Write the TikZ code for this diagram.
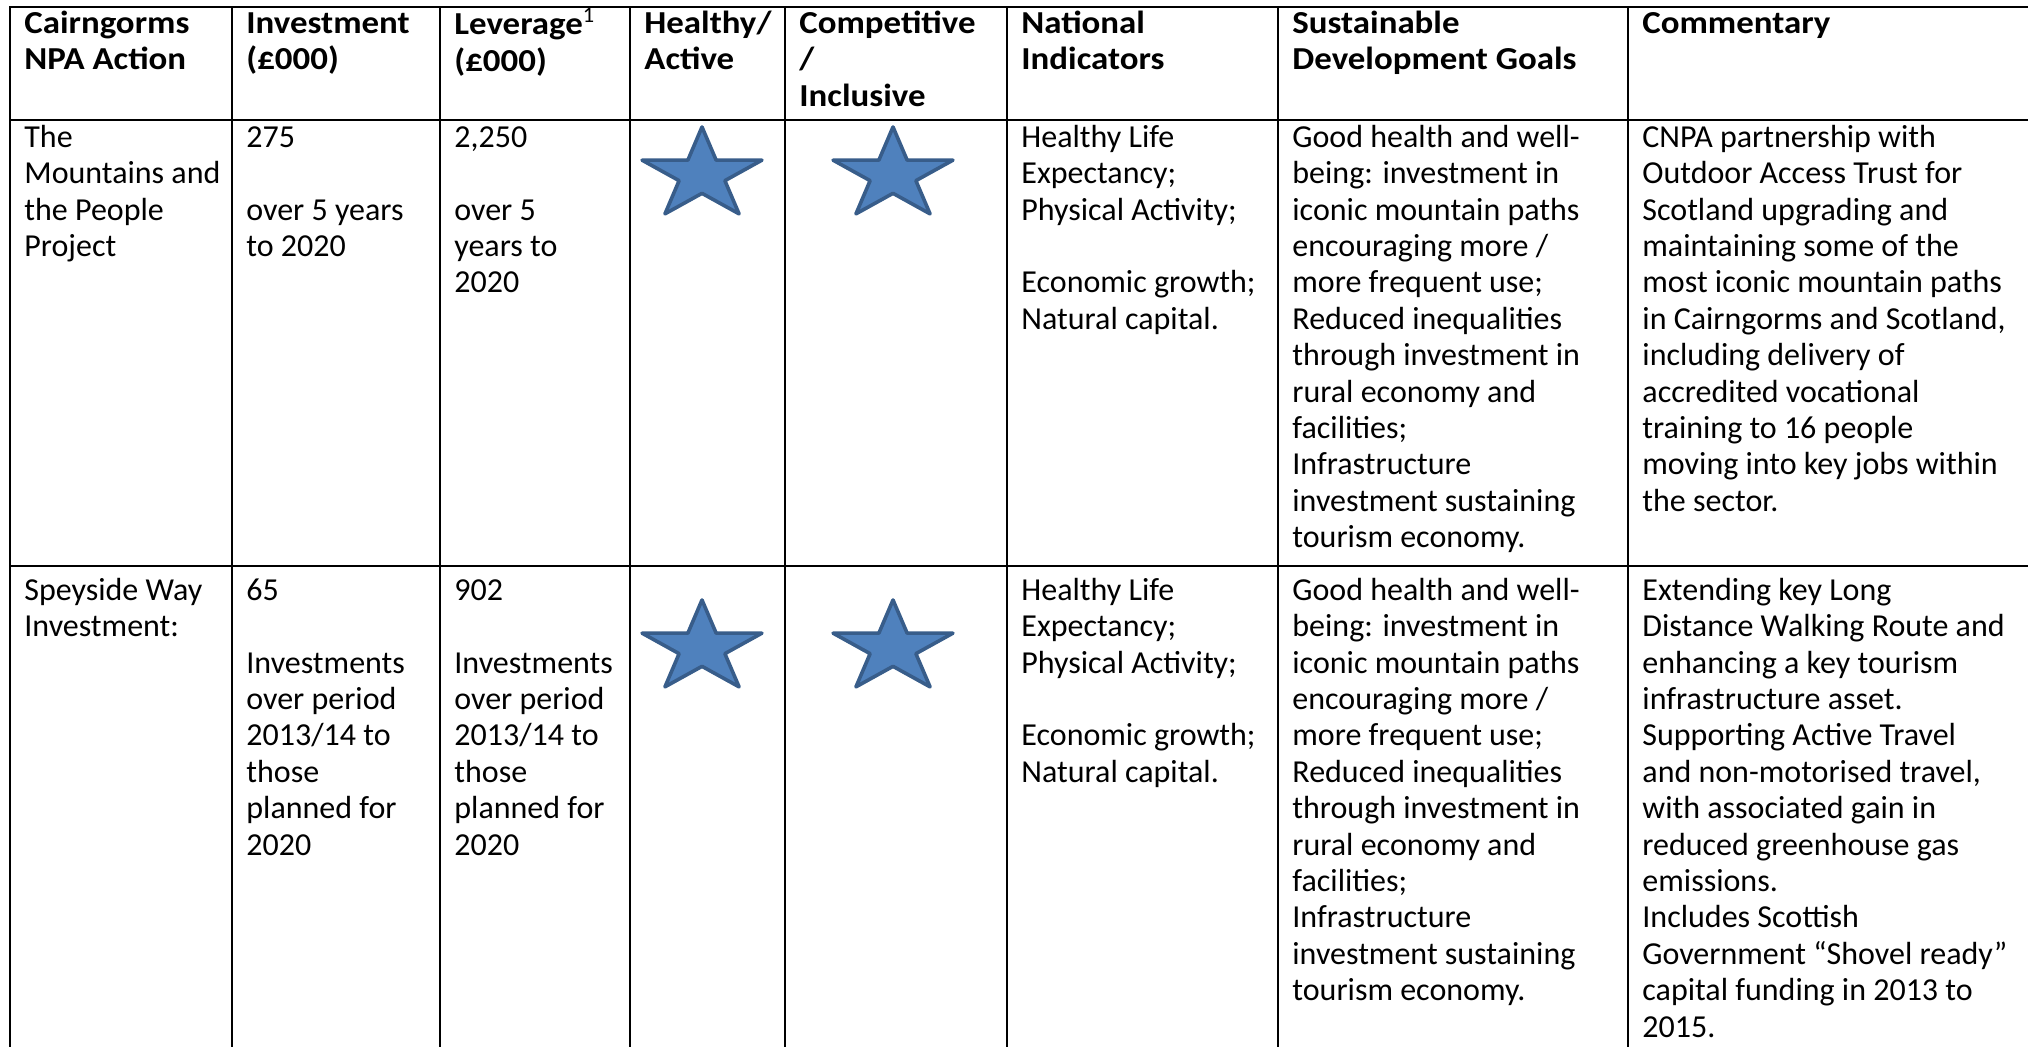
\documentclass[tikz,border=0pt]{standalone}
\usepackage{fontspec}
\setmainfont{Carlito}[BoldFeatures={FakeStretch=1.09}]
\usepackage{tikz}
\usetikzlibrary{positioning}
\definecolor{starblue}{HTML}{4F81BD}
\definecolor{staredge}{HTML}{385D8A}

\begin{document}
\begin{tikzpicture}[x=0.5pt,y=-0.5pt,
    cell/.style={anchor=north west,inner sep=0pt,align=left,font=\fontsize{16}{18.2}\selectfont},
    head/.style={cell,font=\fontsize{16}{18.2}\selectfont\bfseries},
    rule/.style={line width=1.3pt,line cap=rect},
    pics/bigstar/.style={code={
      \draw[fill=starblue,draw=staredge,line width=1.8pt,line join=round,xscale=63,yscale=48]
        (-90:1) \foreach \k in {1,...,9} {-- ({-90+36*\k}:{1-0.618*mod(\k,2)})} -- cycle;}}]
    \useasboundingbox (0,0) rectangle (2028,1047);
    \fill[white] (0,0) rectangle (2028,1047);
    \foreach \cx in {10,232,440,630,785,1007,1278,1628}
      \draw[rule] (\cx,7) -- (\cx,1047);
    \foreach \ry in {7,120,566}
      \draw[rule] (10,\ry) -- (2028,\ry);

    \node[head] (hAction) at (24,7.5) {\strut Cairngorms\\NPA Action};
    \node[head] (hInvest) at (246,7.5) {\strut Investment\\(£000)};
    \node[head] (hLever) at (454,7.5) {\strut Leverage\textsuperscript{\mdseries 1}\\(£000)};
    \node[head] (hHealthy) at (644,7.5) {\strut Healthy/\\Active};
    \node[head] (hCompet) at (799,7.5) {\strut Competitive\\/\\Inclusive};
    \node[head] (hNational) at (1021,7.5) {\strut National\\Indicators};
    \node[head] (hGoals) at (1292,7.5) {\strut Sustainable\\Development Goals};
    \node[head] (hComment) at (1642,7.5) {\strut Commentary};

    \node[cell] (act1) at (24,121.5) {\strut The\\Mountains and\\the People\\Project};
    \node[cell] (inv1) at (246,121.5) {\strut 275\\[18.2pt]over 5 years\\to 2020};
    \node[cell] (lev1) at (454,121.5) {\strut 2,250\\[18.2pt]over 5\\years to\\2020};
    \pic (heal1) at (702,175) {bigstar};
    \pic (comp1) at (893,175) {bigstar};
    \node[cell] (nat1) at (1021,121.5) {\strut Healthy Life\\Expectancy;\\Physical Activity;\\[18.2pt]Economic growth;\\Natural capital.};
    \node[cell] (sdg1) at (1292,121.5) {\strut Good health and well-\\being: investment in\\iconic mountain paths\\encouraging more /\\more frequent use;\\Reduced inequalities\\through investment in\\rural economy and\\facilities;\\Infrastructure\\investment sustaining\\tourism economy.};
    \node[cell] (com1) at (1642,121.5) {\strut CNPA partnership with\\Outdoor Access Trust for\\Scotland upgrading and\\maintaining some of the\\most iconic mountain paths\\in Cairngorms and Scotland,\\including delivery of\\accredited vocational\\training to 16 people\\moving into key jobs within\\the sector.};

    \node[cell] (act2) at (24,574.5) {\strut Speyside Way\\Investment:};
    \node[cell] (inv2) at (246,574.5) {\strut 65\\[18.2pt]Investments\\over period\\2013/14 to\\those\\planned for\\2020};
    \node[cell] (lev2) at (454,574.5) {\strut 902\\[18.2pt]Investments\\over period\\2013/14 to\\those\\planned for\\2020};
    \pic (heal2) at (702,648) {bigstar};
    \pic (comp2) at (893,648) {bigstar};
    \node[cell] (nat2) at (1021,574.5) {\strut Healthy Life\\Expectancy;\\Physical Activity;\\[18.2pt]Economic growth;\\Natural capital.};
    \node[cell] (sdg2) at (1292,574.5) {\strut Good health and well-\\being: investment in\\iconic mountain paths\\encouraging more /\\more frequent use;\\Reduced inequalities\\through investment in\\rural economy and\\facilities;\\Infrastructure\\investment sustaining\\tourism economy.};
    \node[cell] (com2) at (1642,574.5) {\strut Extending key Long\\Distance Walking Route and\\enhancing a key tourism\\infrastructure asset.\\Supporting Active Travel\\and non-motorised travel,\\with associated gain in\\reduced greenhouse gas\\emissions.\\Includes Scottish\\Government “Shovel ready”\\capital funding in 2013 to\\2015.};
  \end{tikzpicture}
\end{document}
